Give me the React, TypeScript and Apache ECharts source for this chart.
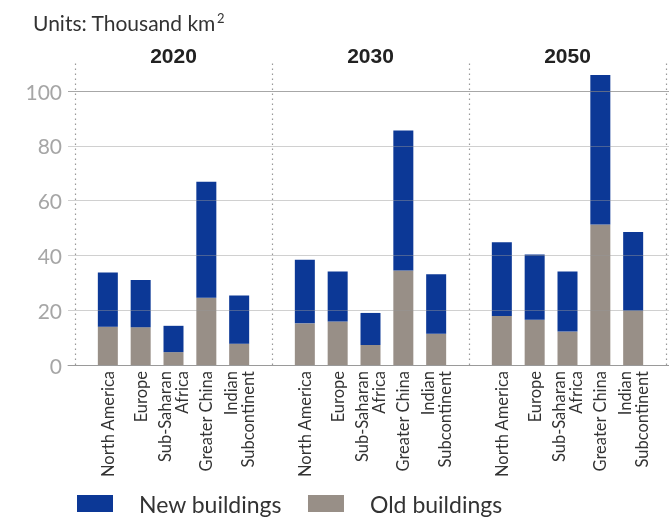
import React, { useEffect, useRef } from "react";
import * as echarts from "echarts";

const years = ["2020", "2030", "2050"];
const regions = [
  "North America",
  "Europe",
  "Sub-Saharan\nAfrica",
  "Greater China",
  "Indian\nSubcontinent",
];
const old2020 = [14.0, 13.8, 4.7, 24.5, 7.8];
const new2020 = [19.8, 17.2, 9.6, 42.4, 17.6];
const old2030 = [15.2, 15.9, 7.3, 34.5, 11.4];
const new2030 = [23.2, 18.2, 11.7, 51.1, 21.7];
const old2050 = [17.9, 16.5, 12.2, 51.3, 19.8];
const new2050 = [26.9, 23.8, 21.9, 54.5, 28.7];
const yTicks = [0, 20, 40, 60, 80, 100];
const seriesNames = ["New buildings", "Old buildings"];

const oldByYear = [old2020, old2030, old2050];
const newByYear = [new2020, new2030, new2050];

export default function App() {
  const ref = useRef<HTMLDivElement>(null);
  useEffect(() => {
    if (!ref.current) return;
    const chart = echarts.init(ref.current, null, { renderer: "svg" });

    // slots: gap, 5 regions, gap, 5 regions, gap, 5 regions, gap
    const keys: string[] = [];
    const labelOf: Record<string, string> = {};
    const isGap: boolean[] = [];
    const yearAt: string[] = [];
    const oldData: any[] = [];
    const newData: any[] = [];
    const addGap = (i: number) => {
      keys.push("gap" + i);
      labelOf["gap" + i] = "";
      isGap.push(true);
      yearAt.push("");
      oldData.push("-");
      newData.push("-");
    };
    years.forEach((y, yi) => {
      addGap(yi);
      regions.forEach((r, ri) => {
        const k = y + "|" + r;
        keys.push(k);
        labelOf[k] = r;
        isGap.push(false);
        yearAt.push(ri === 2 ? y : "");
        oldData.push(oldByYear[yi][ri]);
        newData.push(newByYear[yi][ri]);
      });
    });
    addGap(years.length);

    const option: any = {
      animation: false,
      title: {
        text: "Units: Thousand km{sup|2}",
        left: 28,
        top: 6,
        textStyle: {
          fontFamily: "Lato",
          fontSize: 21,
          fontWeight: "normal",
          color: "#333",
          rich: {
            sup: {
              fontFamily: "Lato",
              fontSize: 13,
              color: "#333",
              verticalAlign: "top",
              padding: [0, 0, 10, 1],
            },
          },
        },
      },
      legend: {
        data: seriesNames,
        left: 77,
        top: 492,
        padding: 0,
        icon: "rect",
        itemWidth: 36,
        itemHeight: 17,
        itemGap: 26,
        textStyle: {
          fontFamily: "Lato",
          fontSize: 23,
          lineHeight: 23,
          color: "#333",
          padding: [0, 0, 0, 21],
        },
      },
      grid: [
        { left: 68, right: 0, top: 91, height: 274 },
        { left: 75, right: 1, top: 63.6, height: 301.4 },
      ],
      xAxis: [
        {
          gridIndex: 0,
          type: "value",
          min: 0,
          max: 1,
          axisLine: { show: true, lineStyle: { color: "#a8a8a8", width: 1 } },
          axisTick: { show: false },
          axisLabel: { show: false },
          splitLine: { show: false },
        },
        {
          gridIndex: 1,
          type: "category",
          data: keys,
          boundaryGap: false,
          axisLine: { show: false },
          axisTick: { show: false },
          axisLabel: {
            interval: 0,
            rotate: 90,
            margin: 6,
            fontSize: 16.5,
            lineHeight: 17,
            color: "#333",
            fontFamily: "Lato",
            formatter: (v: string) => labelOf[v],
          },
          splitLine: {
            show: true,
            interval: (i: number) => isGap[i],
            lineStyle: { color: "#999", type: [1.5, 3.5], width: 1.2 },
          },
        },
        {
          gridIndex: 1,
          type: "category",
          position: "top",
          data: keys,
          boundaryGap: false,
          axisLine: { show: false },
          axisTick: { show: false },
          axisLabel: {
            interval: 0,
            margin: -2,
            fontSize: 21,
            fontWeight: "bold",
            color: "#222",
            fontFamily: "Liberation Sans, Arial",
            formatter: (_v: string, i: number) => yearAt[i],
          },
          splitLine: { show: false },
        },
      ],
      yAxis: [
        {
          gridIndex: 0,
          type: "value",
          min: 0,
          max: 100,
          interval: 20,
          z: 5,
          axisLine: { show: false },
          axisTick: { show: false },
          axisLabel: {
            margin: 6,
            fontSize: 21,
            color: "#a6a6a6",
            fontFamily: "Lato",
            formatter: (v: number) => (yTicks.includes(v) ? String(v) : ""),
          },
          splitLine: {
            lineStyle: {
              color: [
                "rgba(150,150,150,0.8)",
                "rgba(150,150,150,0.45)",
                "rgba(150,150,150,0.45)",
                "rgba(150,150,150,0.45)",
                "rgba(150,150,150,0.45)",
                "rgba(130,130,130,0.7)",
              ],
              width: 1,
            },
          },
        },
        {
          gridIndex: 1,
          type: "value",
          min: 0,
          max: 110,
          show: false,
          splitLine: { show: false },
        },
      ],
      series: [
        {
          name: seriesNames[1],
          type: "bar",
          stack: "total",
          xAxisIndex: 1,
          yAxisIndex: 1,
          barWidth: 20,
          itemStyle: { color: "#988f87" },
          data: oldData,
        },
        {
          name: seriesNames[0],
          type: "bar",
          stack: "total",
          xAxisIndex: 1,
          yAxisIndex: 1,
          barWidth: 20,
          itemStyle: { color: "#0c3896" },
          data: newData,
        },
      ],
    };
    chart.setOption(option);
    return () => chart.dispose();
  }, []);
  return (
    <div
      ref={ref}
      style={{ position: "fixed", left: 0, top: 0, width: 669, height: 518 }}
    />
  );
}
